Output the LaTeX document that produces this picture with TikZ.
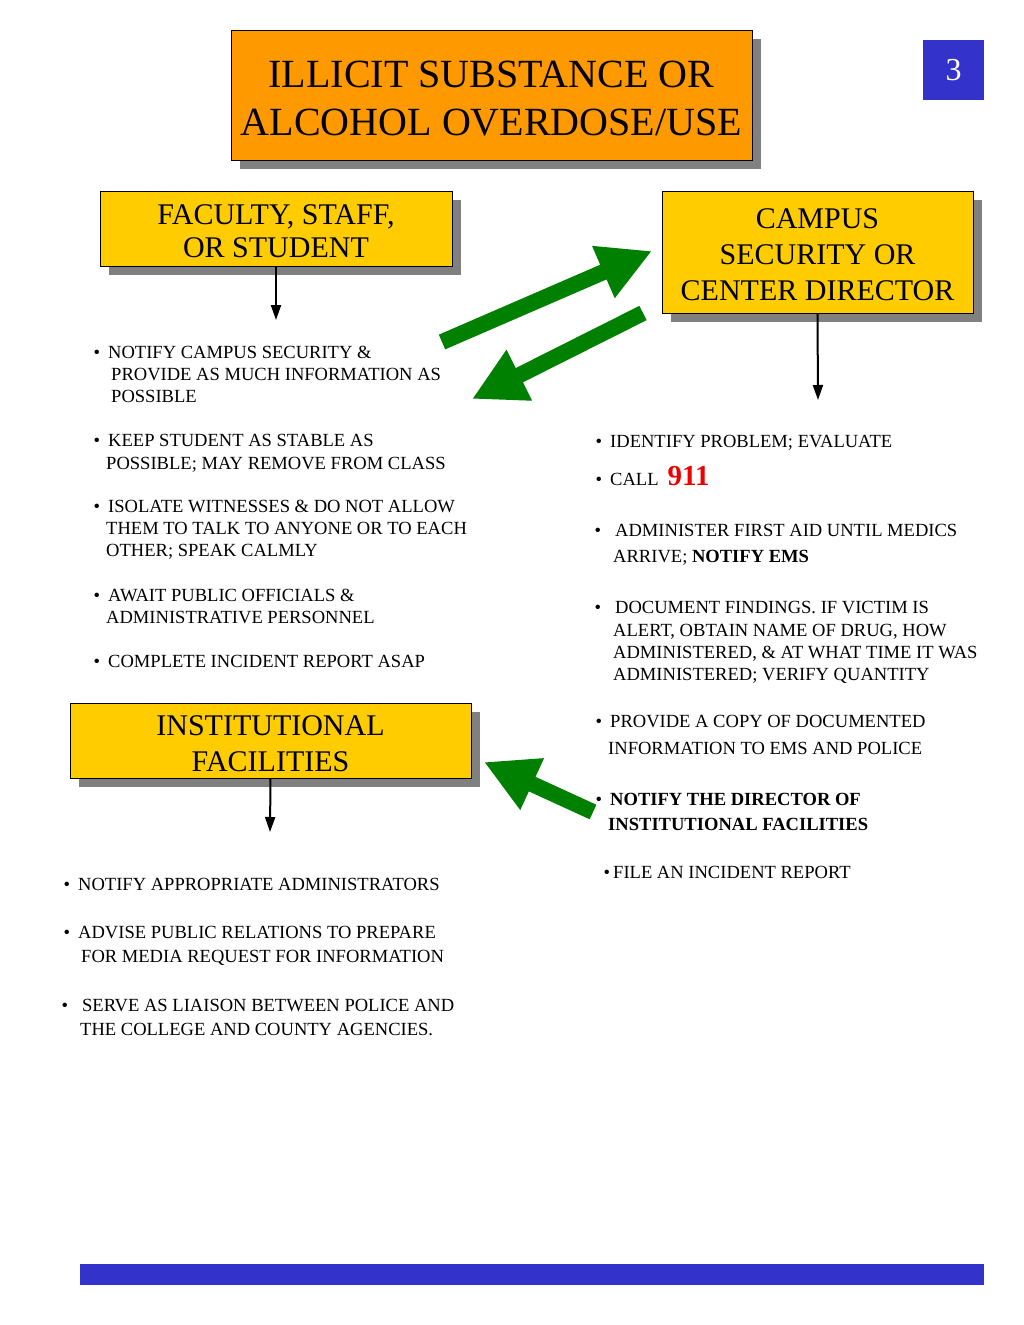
\documentclass[tikz,border=0pt]{standalone}
\usepackage{fontspec}
\setmainfont{Liberation Serif}
\usetikzlibrary{arrows.meta,shadows}
\definecolor{orangebox}{HTML}{FF9900}
\definecolor{yellowbox}{HTML}{FFCC00}
\definecolor{shadowgray}{HTML}{808080}
\definecolor{bluebox}{HTML}{3333CC}
\definecolor{arrowgreen}{HTML}{008000}
\definecolor{rednum}{HTML}{EE0000}
\newcommand\mybul[1][8pt]{\llap{\textbullet\hspace{#1}}}
\newcommand\topstrut[1]{\rule{0pt}{#1}}
\begin{document}
\begin{tikzpicture}[x=1pt,y=-1pt,
  boxshadow/.style={drop shadow={shadow xshift=9pt,shadow yshift=-9pt,opacity=1,fill=shadowgray}},
  titlebox/.style={draw=black,line width=1pt,fill=orangebox,boxshadow,align=center,inner sep=0pt,
    font=\fontsize{40}{48}\selectfont},
  rolebox/.style={draw=black,line width=1pt,fill=yellowbox,boxshadow,align=center,inner sep=0pt,
    font=\fontsize{30}{36}\selectfont},
  txt/.style={anchor=base west,inner sep=0pt,font=\fontsize{18.55}{22}\selectfont},
  blackarrow/.style={draw=black,line width=2pt,-{Triangle[length=15pt,width=10pt]}},
  greenarrow/.style={draw=arrowgreen,line width=16pt,-{Triangle[length=53pt,width=53pt]}}
]
\useasboundingbox (0,0) rectangle (1024,1325);
\fill[white] (0,0) rectangle (1024,1325);

% header
\node[titlebox,minimum width=521pt,minimum height=130pt] (title) at (491.5,95)
  {\topstrut{33pt}ILLICIT SUBSTANCE OR\\ALCOHOL OVERDOSE/USE};
\node[fill=bluebox,minimum width=61pt,minimum height=60pt,inner sep=0pt,text=white,
  font=\fontsize{32}{32}\selectfont] (pg) at (953.5,70) {3};

% role boxes
\node[rolebox,minimum width=352pt,minimum height=75pt,font=\fontsize{30}{33}\selectfont] (fac) at (276,228.5)
  {\topstrut{26pt}FACULTY, STAFF,\\OR STUDENT};
\node[rolebox,minimum width=311pt,minimum height=122pt] (sec) at (817.5,252)
  {\topstrut{26pt}CAMPUS\\SECURITY OR\\CENTER DIRECTOR};
\node[rolebox,minimum width=401pt,minimum height=75pt] (inst) at (270.5,740.5)
  {\topstrut{26pt}INSTITUTIONAL\\FACILITIES};

% black arrows
\coordinate (facend) at (276,320);
\coordinate (secend) at (818,400);
\coordinate (instend) at (270,832);
\draw[blackarrow] (fac.south) -- (facend);
\draw[blackarrow] (sec.south) -- (secend);
\draw[blackarrow] (inst.south) -- (instend);

% green arrows
\coordinate (g1s) at (442,342);
\coordinate (g1e) at (652,251);
\coordinate (g2s) at (643,313);
\coordinate (g2e) at (472,399);
\coordinate (g3s) at (593,812);
\coordinate (g3e) at (484,762);
\draw[greenarrow] (g1s) -- (g1e);
\draw[greenarrow] (g2s) -- (g2e);
\draw[greenarrow] (g3s) -- (g3e);

% left column
\node[txt] (l1) at (108,358) {\mybul NOTIFY CAMPUS SECURITY \&};
\node[txt] (l2) at (111,380) {PROVIDE AS MUCH INFORMATION AS};
\node[txt] (l3) at (111,402) {POSSIBLE};
\node[txt] (l4) at (108,446) {\mybul KEEP STUDENT AS STABLE AS};
\node[txt] (l5) at (106,469) {POSSIBLE; MAY REMOVE FROM CLASS};
\node[txt] (l6) at (108,512) {\mybul ISOLATE WITNESSES \& DO NOT ALLOW};
\node[txt] (l7) at (106,534) {THEM TO TALK TO ANYONE OR TO EACH};
\node[txt] (l8) at (106,556) {OTHER; SPEAK CALMLY};
\node[txt] (l9) at (108,601) {\mybul AWAIT PUBLIC OFFICIALS \&};
\node[txt] (l10) at (106,623) {ADMINISTRATIVE PERSONNEL};
\node[txt] (l11) at (108,667) {\mybul COMPLETE INCIDENT REPORT ASAP};

% right column
\node[txt] (r1) at (610,447) {\mybul IDENTIFY PROBLEM; EVALUATE};
\node[txt] (r2) at (610,485) {\mybul CALL\hspace{9pt}{\color{rednum}\bfseries\fontsize{29}{29}\selectfont 911}};
\node[txt] (r3) at (615,536) {\mybul[14pt]ADMINISTER FIRST AID UNTIL MEDICS};
\node[txt] (r4) at (613,562) {ARRIVE; \textbf{NOTIFY EMS}};
\node[txt] (r5) at (615,613) {\mybul[14pt]DOCUMENT FINDINGS. IF VICTIM IS};
\node[txt] (r6) at (613,636) {ALERT, OBTAIN NAME OF DRUG, HOW};
\node[txt] (r7) at (613,658) {ADMINISTERED, \& AT WHAT TIME IT WAS};
\node[txt] (r8) at (613,680) {ADMINISTERED; VERIFY QUANTITY};
\node[txt] (r9) at (610,727) {\mybul PROVIDE A COPY OF DOCUMENTED};
\node[txt] (r10) at (608,754) {INFORMATION TO EMS AND POLICE};
\node[txt] (r11) at (610,805) {\mybul\textbf{NOTIFY THE DIRECTOR OF}};
\node[txt] (r12) at (608,830) {\textbf{INSTITUTIONAL FACILITIES}};
\node[txt] (r13) at (613,878) {\mybul[3pt]FILE AN INCIDENT REPORT};

% bottom left column
\node[txt] (b1) at (78,890) {\mybul NOTIFY APPROPRIATE ADMINISTRATORS};
\node[txt] (b2) at (78,938) {\mybul ADVISE PUBLIC RELATIONS TO PREPARE};
\node[txt] (b3) at (81,962) {FOR MEDIA REQUEST FOR INFORMATION};
\node[txt] (b4) at (82,1011) {\mybul[14pt]SERVE AS LIAISON BETWEEN POLICE AND};
\node[txt] (b5) at (80,1035) {THE COLLEGE AND COUNTY AGENCIES.};

% footer bar
\node[fill=bluebox,minimum width=904pt,minimum height=21pt,inner sep=0pt] (bar) at (532,1274.5) {};
\end{tikzpicture}
\end{document}
